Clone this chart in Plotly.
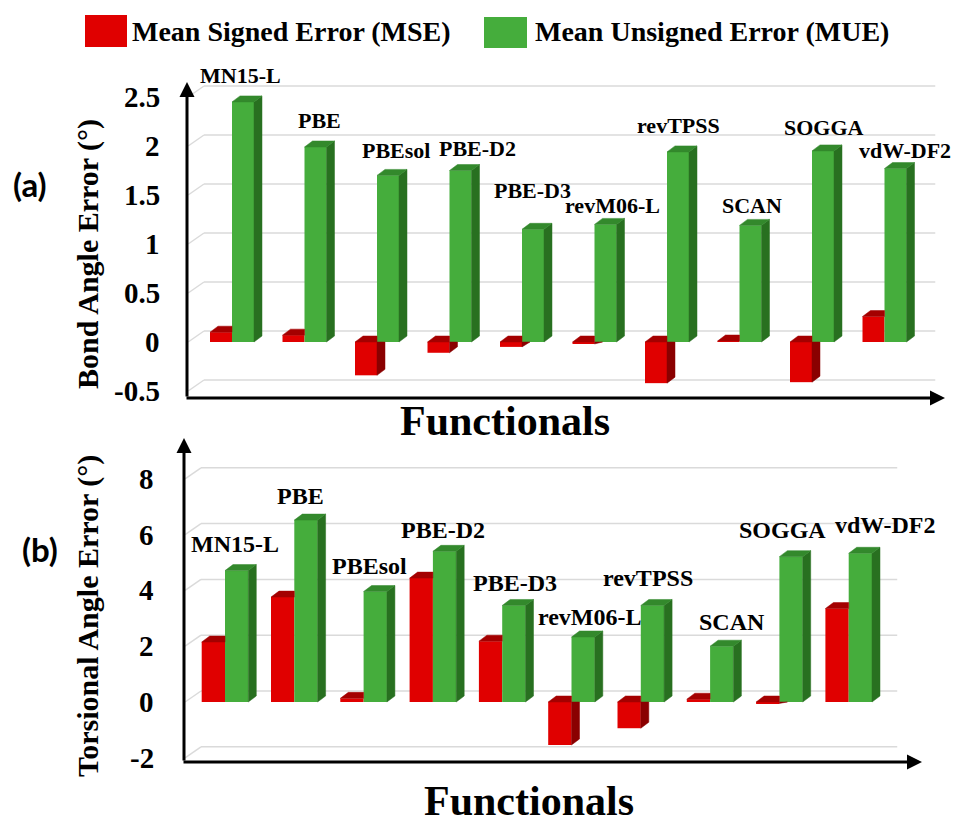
import plotly.graph_objects as go

# ---- data -------------------------------------------------------------
functionals = ["MN15-L", "PBE", "PBEsol", "PBE-D2", "PBE-D3",
               "revM06-L", "revTPSS", "SCAN", "SOGGA", "vdW-DF2"]

# (a) bond angle errors (degrees)
bond_mse = [0.10, 0.07, -0.34, -0.11, -0.05, -0.02, -0.42, 0.01, -0.41, 0.26]
bond_mue = [2.45, 1.99, 1.70, 1.75, 1.15, 1.20, 1.94, 1.19, 1.95, 1.77]
bond_ticks = [-0.5, 0, 0.5, 1, 1.5, 2, 2.5]
bond_ticktext = ["-0.5", "0", "0.5", "1", "1.5", "2", "2.5"]

# (b) torsional angle errors (degrees)
tors_mse = [2.15, 3.76, 0.13, 4.44, 2.18, -1.54, -0.94, 0.10, -0.05, 3.35]
tors_mue = [4.71, 6.52, 3.96, 5.40, 3.46, 2.33, 3.46, 2.00, 5.21, 5.33]
tors_ticks = [-2, 0, 2, 4, 6, 8]
tors_ticktext = ["-2", "0", "2", "4", "6", "8"]

series_names = ["Mean Signed Error (MSE)", "Mean Unsigned Error (MUE)"]

# ---- styling ----------------------------------------------------------
W, H = 956, 824
RED_FRONT, RED_TOP, RED_SIDE = "#E00000", "#A40000", "#8A0000"
GRN_FRONT, GRN_TOP, GRN_SIDE = "#45AD3C", "#33892C", "#287020"
GRID = "#DADADA"
SERIF = "Liberation Serif"


def px(x):
    return x / W


def py(y):
    return 1 - y / H


# pixel layout of each panel (axis box, category pitch, value scale, label nudges)
panels = [
    dict(mse=bond_mse, mue=bond_mue, ticks=bond_ticks, ticktext=bond_ticktext,
         xa="x", ya="y", left=186, right=945, top=82, bottom=398,
         cat0=232, step=72.5, zero=342, unit=98, bar_px=22, tick_right=162,
         label_size=22,
         label_dx=[8, 15, 19, 28, 10, 18, 11, 12, 12, 20],
         label_dy=[26, 26, 25, 22, 39, 19, 26, 20, 23, 18]),
    dict(mse=tors_mse, mue=tors_mue, ticks=tors_ticks, ticktext=tors_ticktext,
         xa="x2", ya="y2", left=183, right=922, top=438, bottom=762,
         cat0=225, step=69.3, zero=702, unit=27.9, bar_px=23.3, tick_right=156,
         label_size=24,
         label_dx=[10, 6, 6, 10, 13, 18, 7, 22, 3, 36],
         label_dy=[27, 24, 26, 21, 22, 20, 27, 24, 27, 28]),
]

fig = go.Figure()
shapes, annotations = [], []
layout_axes = {}


def poly_trace(polys, color, xa, ya):
    xs, ys = [], []
    for p in polys:
        xs += [q[0] for q in p] + [p[0][0], None]
        ys += [q[1] for q in p] + [p[0][1], None]
    return go.Scatter(x=xs, y=ys, mode="lines", fill="toself", fillcolor=color,
                      line=dict(color=color, width=0.5), hoverinfo="skip",
                      xaxis=xa, yaxis=ya, showlegend=False)


for k, P in enumerate(panels):
    n = len(functionals)
    idx = list(range(n))
    step, unit = P["step"], P["unit"]
    w = P["bar_px"] / step                 # bar width in category units
    dx, dy = 8 / step, 6 / unit            # bar depth offset
    dxw, dyw = 18 / step, 11 / unit        # back-wall offset
    x_lo = (P["left"] - P["cat0"]) / step
    x_hi = (P["right"] - P["cat0"]) / step
    y_lo = -(P["bottom"] - P["zero"]) / unit
    y_hi = (P["zero"] - P["top"]) / unit
    xa, ya = P["xa"], P["ya"]

    # back-wall gridlines with the slanted left-wall segment, plus value labels
    for t, tt in zip(P["ticks"], P["ticktext"]):
        shapes.append(dict(type="line", xref=xa, yref=ya, layer="below",
                           x0=x_lo + 0.03, y0=t, x1=x_lo + dxw, y1=t + dyw,
                           line=dict(color=GRID, width=1.5)))
        shapes.append(dict(type="line", xref=xa, yref=ya, layer="below",
                           x0=x_lo + dxw, y0=t + dyw, x1=n - 0.3, y1=t + dyw,
                           line=dict(color=GRID, width=1.5)))
        annotations.append(dict(x=px(P["tick_right"]), y=t, xref="paper", yref=ya,
                                text="<b>%s</b>" % tt, showarrow=False,
                                xanchor="right", yanchor="middle",
                                font=dict(family=SERIF, size=29, color="black")))

    # front faces
    fig.add_trace(go.Bar(x=idx, y=P["mse"], width=w, offset=-w,
                         marker=dict(color=RED_FRONT, line=dict(width=0)),
                         name=series_names[0], hoverinfo="skip",
                         xaxis=xa, yaxis=ya, showlegend=False))
    fig.add_trace(go.Bar(x=idx, y=P["mue"], width=w, offset=0,
                         marker=dict(color=GRN_FRONT, line=dict(width=0)),
                         name=series_names[1], hoverinfo="skip",
                         xaxis=xa, yaxis=ya, showlegend=False))

    # red bars: top and side faces, trimmed where the green bar hides them
    red_top, red_side = [], []
    for i, v in zip(idx, P["mse"]):
        yt = max(v, 0)
        red_top.append([(i - w, yt), (i, yt), (i, yt + dy), (i - w + dx, yt + dy)])
        if v < 0:
            red_side.append([(i, v), (i, 0), (i + dx, 0), (i + dx, min(v + dy, 0))])
    fig.add_trace(poly_trace(red_side, RED_SIDE, xa, ya))
    fig.add_trace(poly_trace(red_top, RED_TOP, xa, ya))

    # green bars: top and side faces
    g_top, g_side = [], []
    for i, v in zip(idx, P["mue"]):
        g_top.append([(i, v), (i + w, v), (i + w + dx, v + dy), (i + dx, v + dy)])
        g_side.append([(i + w, 0), (i + w, v), (i + w + dx, v + dy), (i + w + dx, dy)])
    fig.add_trace(poly_trace(g_side, GRN_SIDE, xa, ya))
    fig.add_trace(poly_trace(g_top, GRN_TOP, xa, ya))

    # functional names above each pair
    for i, name in enumerate(functionals):
        annotations.append(dict(x=i, y=P["mue"][i], xref=xa, yref=ya,
                                text="<b>%s</b>" % name, showarrow=False,
                                xshift=P["label_dx"][i], yshift=P["label_dy"][i],
                                xanchor="center", yanchor="middle",
                                font=dict(family=SERIF, size=P["label_size"], color="black")))

    # axis arrows
    annotations.append(dict(x=px(P["left"] + 1), y=py(P["top"]), xref="paper", yref="paper",
                            text="", showarrow=True, ax=0, ay=P["bottom"] - P["top"],
                            arrowhead=2, arrowsize=1, arrowwidth=3, arrowcolor="black"))
    annotations.append(dict(x=px(P["right"]), y=py(P["bottom"]), xref="paper", yref="paper",
                            text="", showarrow=True, ax=-(P["right"] - P["left"] + 1), ay=0,
                            arrowhead=2, arrowsize=1, arrowwidth=3, arrowcolor="black"))

    suffix = "" if k == 0 else "2"
    layout_axes["xaxis" + suffix] = dict(
        domain=[px(P["left"]), px(P["right"])], range=[x_lo, x_hi],
        anchor="y" + suffix, showgrid=False, zeroline=False, showline=False,
        showticklabels=False, ticks="", fixedrange=True)
    layout_axes["yaxis" + suffix] = dict(
        domain=[py(P["bottom"]), py(P["top"])], range=[y_lo, y_hi],
        anchor="x" + suffix, showgrid=False, zeroline=False, showline=False,
        showticklabels=False, ticks="", fixedrange=True)

# axis titles and panel tags
text_items = [
    ("Bond Angle Error (°)", 88, 254, 30, -90, SERIF),
    ("Torsional Angle Error (°)", 88, 616, 30, -90, SERIF),
    ("Functionals", 505, 421, 42, 0, SERIF),
    ("Functionals", 529, 801, 42, 0, SERIF),
    ("(a)", 30, 184, 33, 0, "Lato"),
    ("(b)", 40, 549, 33, 0, "Lato"),
]
for txt, x, y, size, ang, fam in text_items:
    annotations.append(dict(x=px(x), y=py(y), xref="paper", yref="paper",
                            text="<b>%s</b>" % txt, showarrow=False, textangle=ang,
                            xanchor="center", yanchor="middle",
                            font=dict(family=fam, size=size, color="black")))

# legend: coloured squares with labels
legend_items = [(series_names[0], RED_FRONT, 85, 127, 15, 47, 130),
                (series_names[1], GRN_FRONT, 484, 527, 17, 48, 533)]
for name, col, x0, x1, y0, y1, tx in legend_items:
    shapes.append(dict(type="rect", xref="paper", yref="paper",
                       x0=px(x0), x1=px(x1), y0=py(y1), y1=py(y0),
                       fillcolor=col, line=dict(width=0)))
    annotations.append(dict(x=px(tx), y=py(32), xref="paper", yref="paper",
                            text="<b>%s</b>" % name, showarrow=False,
                            xanchor="left", yanchor="middle",
                            font=dict(family=SERIF, size=28, color="black")))

fig.update_layout(
    width=W, height=H, margin=dict(l=0, r=0, t=0, b=0),
    paper_bgcolor="white", plot_bgcolor="white",
    font=dict(family=SERIF, color="black"),
    barmode="overlay", showlegend=False,
    shapes=shapes, annotations=annotations,
    **layout_axes,
)

fig.write_html("out.html")
